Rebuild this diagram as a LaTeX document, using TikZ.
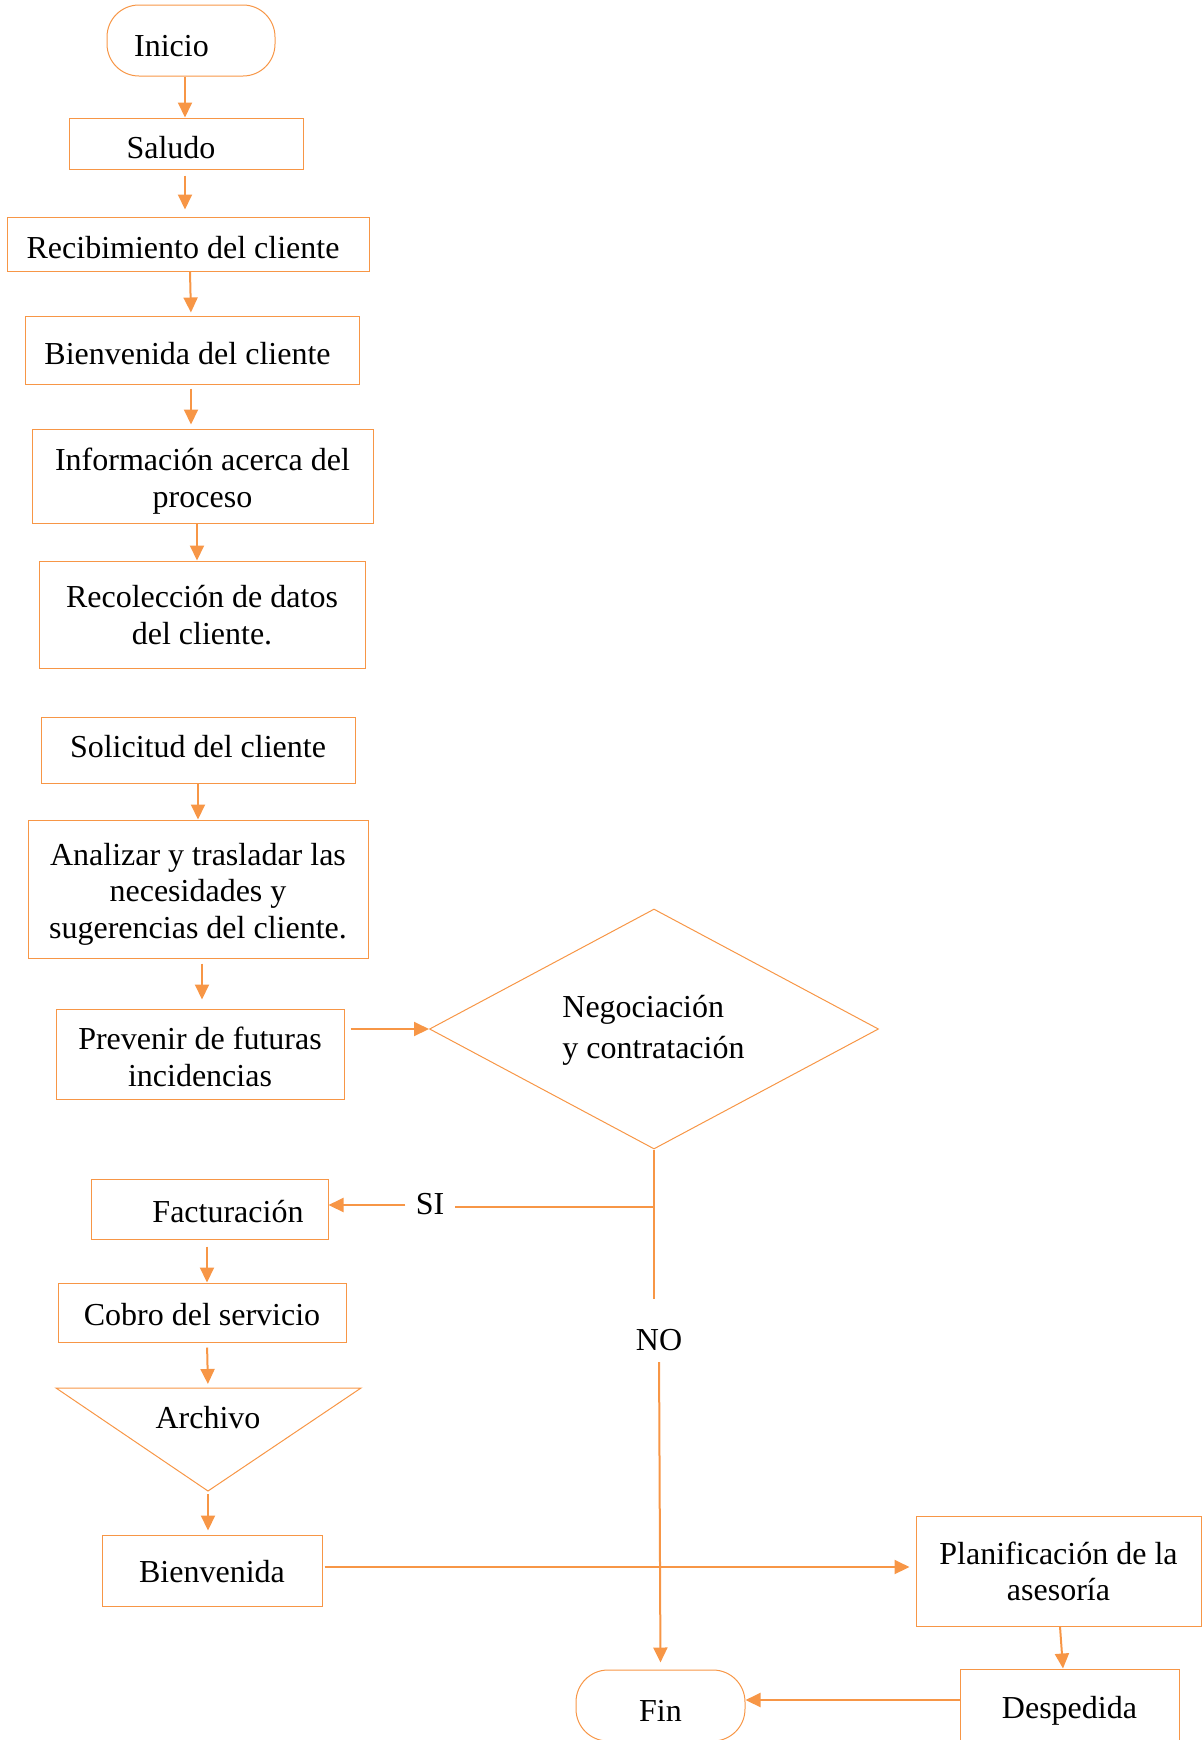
\documentclass[tikz,border=0pt]{standalone}
\usepackage{fontspec}
\setmainfont{Liberation Serif}
\usetikzlibrary{shapes.geometric,arrows.meta}
\definecolor{org}{HTML}{F79646}
\newcommand\txtdown[2]{\raisebox{-#1}[\height][\depth]{#2}}
\newcommand\txtdownm[2]{\raisebox{-#1}[\height][\depth]{\begin{tabular}{@{}c@{}}#2\end{tabular}}}
\begin{document}
\begin{tikzpicture}[x=0.5pt,y=-0.5pt,
  every node/.style={font=\fontsize{16}{18.3}\selectfont, text=black, inner sep=0pt},
  box/.style={draw=org, line width=0.5pt},
  term/.style={box, rounded corners=16pt},
  arr/.style={draw=org, line width=1pt, -{Triangle[length=7.5pt,width=7pt]}},
  ln/.style={draw=org, line width=1pt}]
\useasboundingbox (0,0) rectangle (1202,1740);

% left column
\node[term, minimum width=84pt, minimum height=35.5pt] (inicio) at (191,40.5) {\txtdown{2.8pt}{Inicio\rule{19.5pt}{0pt}}};
\node[box, minimum width=117pt, minimum height=25.5pt] (saludo) at (186,143.5) {\txtdown{2.2pt}{Saludo\rule{15pt}{0pt}}};
\node[box, minimum width=181pt, minimum height=27pt] (recib) at (188,244) {\txtdown{1.7pt}{Recibimiento del cliente\rule{5pt}{0pt}}};
\node[box, minimum width=167pt, minimum height=34pt] (bienvc) at (192,350) {\txtdown{1.7pt}{Bienvenida del cliente\rule{4.5pt}{0pt}}};
\node[box, minimum width=170.5pt, minimum height=47pt] (info) at (202.5,476) {\txtdownm{2.8pt}{Información acerca del\\proceso}};
\node[box, minimum width=163pt, minimum height=53.5pt] (recol) at (202,614.5) {\txtdownm{2.0pt}{Recolección de datos\\del cliente.}};
\node[box, minimum width=157pt, minimum height=33pt] (solic) at (198,750) {\txtdown{-1.7pt}{Solicitud del cliente}};
\node[box, minimum width=170pt, minimum height=69pt] (anal) at (198,889) {\txtdownm{2.7pt}{Analizar y trasladar las\\necesidades y\\sugerencias del cliente.}};
\node[box, minimum width=144pt, minimum height=45pt] (prev) at (200,1054) {\txtdownm{3.2pt}{Prevenir de futuras\\incidencias}};

% decision
\node[draw=org, line width=0.5pt, diamond, minimum width=224.5pt, minimum height=120pt] (dia) at (654,1029) {};
\node[align=left, anchor=west, font=\fontsize{16}{20.5}\selectfont] (diatxt) at (562,1030.5) {Negociación\\y contratación};

\node (si) at (430,1204) {SI};
\node (no) at (659,1340) {NO};

\node[box, minimum width=118.5pt, minimum height=30pt] (fact) at (209.5,1209) {\txtdown{1.1pt}{\rule{18.5pt}{0pt}Facturación}};
\node[box, minimum width=144pt, minimum height=29.5pt] (cobro) at (202,1312.5) {\txtdown{1pt}{Cobro del servicio}};

% Archivo triangle
\coordinate (aTL) at (56,1388);
\coordinate (aTR) at (361,1388);
\coordinate (aB) at (208,1491);
\coordinate (aT) at (208,1388);
\draw[draw=org, line width=0.5pt] (aTL) -- (aTR) -- (aB) -- cycle;
\node (archivo) at (208,1418) {Archivo};

\node[box, minimum width=110pt, minimum height=35.5pt] (bienv) at (212,1570.5) {\txtdown{0.5pt}{Bienvenida}};
\node[box, minimum width=142.5pt, minimum height=55pt] (plan) at (1058.5,1571) {\txtdownm{2.0pt}{Planificación de la\\asesoría}};
\node[box, minimum width=109.5pt, minimum height=38pt] (desp) at (1069.5,1707) {\txtdown{1.7pt}{Despedida}};
\node[term, minimum width=84.5pt, minimum height=35.5pt] (fin) at (660.5,1705.5) {\txtdown{2.5pt}{Fin}};

% connectors
\draw[arr] (inicio.south -| 185,0) -- (saludo.north -| 185,0);
\draw[arr, shorten <=3pt, shorten >=3.5pt] (saludo.south -| 185,0) -- (recib.north -| 185,0);
\draw[arr, shorten >=1.5pt] (recib.south -| 190,0) -- (bienvc.north -| 191,0);
\draw[arr, shorten <=2pt, shorten >=2pt] (bienvc.south -| 191,0) -- (info.north -| 191,0);
\draw[arr] (info.south -| 197,0) -- (recol.north -| 197,0);
\draw[arr] (solic.south -| 198,0) -- (anal.north -| 198,0);
\draw[arr, shorten <=2.5pt, shorten >=4.5pt] (anal.south -| 202,0) -- (prev.north -| 202,0);
\draw[arr, shorten <=3pt] (prev.east |- dia.west) -- (dia.west);

\draw[ln, shorten >=15pt] (dia.south) -- (dia.south |- no.north);
\draw[ln, shorten >=5pt] (dia.south |- 0,1207) -- (si.east |- 0,1207);
\draw[arr, shorten <=5pt] (si.west |- 0,1205) -- (fact.east |- 0,1205);
\draw[arr, shorten <=5.5pt, shorten >=3.5pt] (no.south) -- (fin.north);

\draw[arr, shorten <=3.5pt] (fact.south -| 207,0) -- (cobro.north -| 207,0);
\draw[arr, shorten <=2.5pt, shorten >=2pt] (cobro.south -| 207,0) -- (aT);
\draw[arr, shorten <=1.5pt, shorten >=2pt] (aB) -- (bienv.north -| aB);
\draw[arr, shorten <=1pt, shorten >=3pt] (bienv.east |- 0,1567) -- (plan.west |- 0,1567);
\draw[arr] (plan.south -| 1060,0) -- (desp.north -| 1063,0);
\draw[arr] (desp.west |- 0,1700) -- (fin.east |- 0,1700);
\end{tikzpicture}
\end{document}
